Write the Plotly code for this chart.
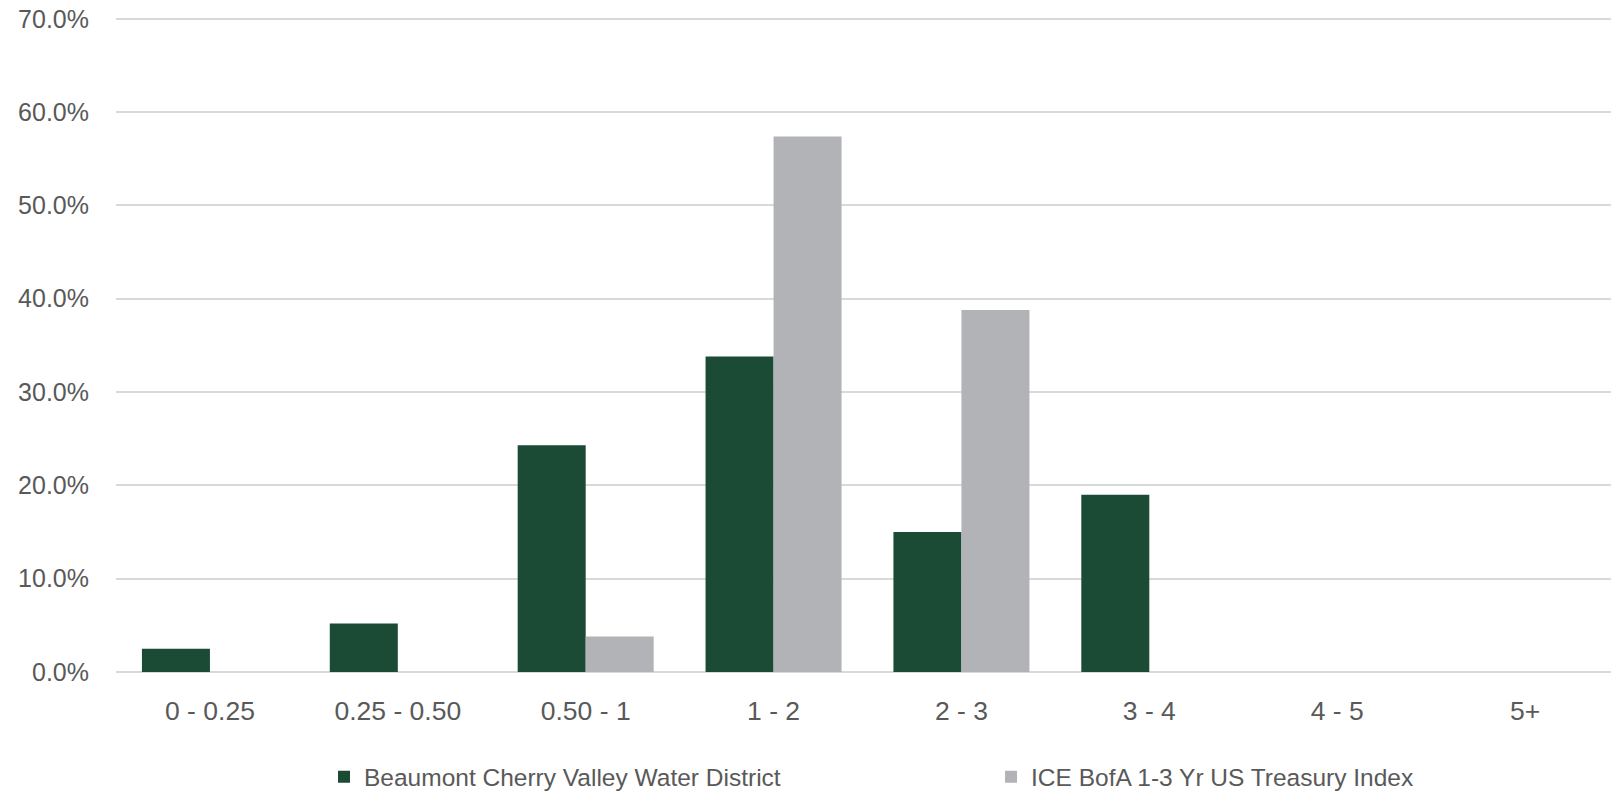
import plotly.graph_objects as go

categories = ["0 - 0.25", "0.25 - 0.50", "0.50 - 1", "1 - 2", "2 - 3", "3 - 4", "4 - 5", "5+"]
district_values = [0.025, 0.052, 0.243, 0.338, 0.150, 0.190, 0.0, 0.0]
index_values = [0.0, 0.0, 0.038, 0.574, 0.388, 0.0, 0.0, 0.0]
series_names = ["Beaumont Cherry Valley Water District", "ICE BofA 1-3 Yr US Treasury Index"]
y_ticks = [0, 0.1, 0.2, 0.3, 0.4, 0.5, 0.6, 0.7]

GREEN = "#1B4A35"
GRAY = "#B2B3B6"
TEXT = "#595959"
FONT = "Liberation Sans, Arial, sans-serif"

fig = go.Figure()
fig.add_trace(go.Bar(x=categories, y=district_values, name=series_names[0],
                     marker=dict(color=GREEN, line=dict(width=0)), legend="legend"))
fig.add_trace(go.Bar(x=categories, y=index_values, name=series_names[1],
                     marker=dict(color=GRAY, line=dict(width=0)), legend="legend2"))

legend_common = dict(orientation="h", y=-0.1597, yanchor="middle", xanchor="left",
                     font=dict(size=24.5, color=TEXT, family=FONT),
                     bgcolor="rgba(0,0,0,0)", borderwidth=0)

# the page body has an 8px default margin, so the figure is sized/offset to compensate
fig.update_layout(
    width=1611, height=787,
    margin=dict(l=108, r=0, t=8, b=123, autoexpand=False),
    paper_bgcolor="white", plot_bgcolor="white",
    barmode="group", bargap=0.276, bargroupgap=0,
    font=dict(family=FONT, color=TEXT),
    showlegend=True,
    legend=dict(x=0.1384, **legend_common),
    legend2=dict(x=0.5822, **legend_common),
    xaxis=dict(showgrid=False, showline=False, zeroline=False, automargin=False,
               tickfont=dict(size=26.5, color=TEXT, family=FONT), ticklabelstandoff=20),
    yaxis=dict(range=[0, 0.703], tickvals=y_ticks, tickformat=".1%", automargin=False,
               showgrid=True, gridcolor="#D9D9D9", gridwidth=1.5,
               zeroline=True, zerolinecolor="#D9D9D9", zerolinewidth=1.5,
               showline=False, ticklabeloverflow="allow",
               tickfont=dict(size=25, color=TEXT, family=FONT),
               ticklabelstandoff=26),
)

fig.write_html("out.html")
